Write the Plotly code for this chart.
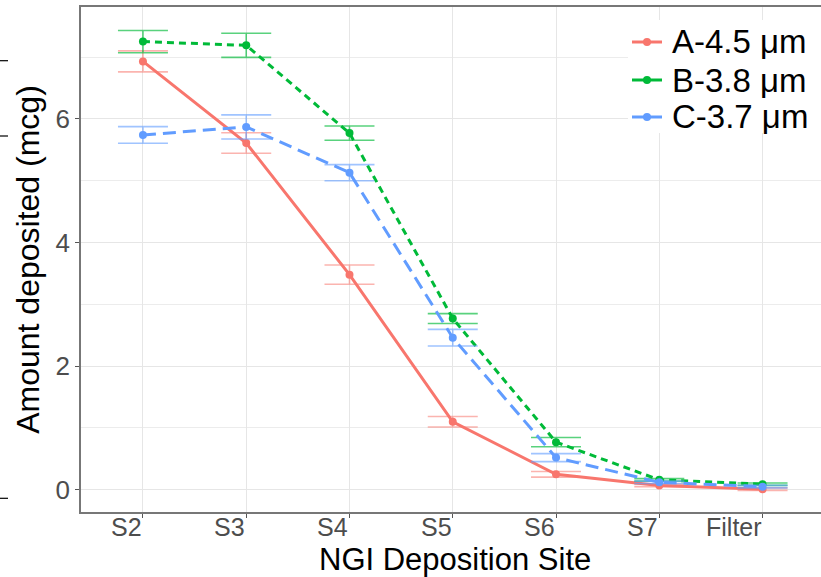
import plotly.graph_objects as go

sites = ["S2", "S3", "S4", "S5", "S6", "S7", "Filter"]

a_name = "A-4.5 μm"
a_vals = [6.93, 5.61, 3.48, 1.10, 0.25, 0.07, 0.01]
a_err = [0.17, 0.165, 0.155, 0.085, 0.045, 0.02, 0.02]

b_name = "B-3.8 μm"
b_vals = [7.25, 7.19, 5.77, 2.77, 0.77, 0.16, 0.09]
b_err = [0.18, 0.195, 0.115, 0.08, 0.075, 0.02, 0.02]

c_name = "C-3.7 μm"
c_vals = [5.74, 5.87, 5.13, 2.46, 0.52, 0.12, 0.05]
c_err = [0.135, 0.195, 0.13, 0.135, 0.065, 0.02, 0.02]

y_ticks = [0, 2, 4, 6]

x_title = "NGI Deposition Site"
y_title = "Amount deposited (mcg)"

FONT = "Liberation Sans, Arial, sans-serif"
W, H = 821, 577
ML, MR, MT, MB = 81, 0, 7, 65
PW, PH = W - ML - MR, H - MT - MB


def px_x(px):
    return (px - ML) / PW


def px_y(py):
    return (MT + PH - py) / PH


series = [
    (a_name, a_vals, a_err, "#F8766D", "rgba(248,118,109,0.55)", "solid"),
    (b_name, b_vals, b_err, "#00BA38", "rgba(0,186,56,0.65)", "7px,5px"),
    (c_name, c_vals, c_err, "#619CFF", "rgba(97,156,255,0.6)", "13px,7px"),
]

fig = go.Figure()
for name, vals, err, col, ecol, dash in series:
    fig.add_trace(go.Scatter(
        x=sites, y=vals, name=name, mode="lines+markers",
        line=dict(color=col, width=3, dash=dash),
        marker=dict(color=col, size=8),
        error_y=dict(type="data", array=err, visible=True,
                     color=ecol, thickness=1.6, width=25),
        showlegend=False,
    ))

fig.update_layout(
    width=W, height=H,
    margin=dict(l=ML, r=MR, t=MT, b=MB),
    paper_bgcolor="white", plot_bgcolor="white",
    font=dict(family=FONT),
    showlegend=False,
    xaxis=dict(
        type="category", categoryorder="array", categoryarray=sites,
        range=[-0.6, 6.566],
        showgrid=True, gridcolor="#e6e6e6", gridwidth=1.3,
        showline=True, linecolor="#777777", linewidth=1.5, mirror=True,
        ticks="outside", ticklen=4, tickcolor="#555555", tickwidth=1,
        showticklabels=False,
        zeroline=False,
    ),
    yaxis=dict(
        range=[-0.36, 7.81],
        tickvals=y_ticks,
        showgrid=True, gridcolor="#e6e6e6", gridwidth=1.3,
        minor=dict(dtick=1, showgrid=True, gridcolor="#ececec", gridwidth=0.8, tick0=1),
        showline=True, linecolor="#777777", linewidth=1.5, mirror=False,
        ticks="outside", ticklen=4, tickcolor="#555555", tickwidth=1,
        tickfont=dict(size=26, color="#4d4d4d", family=FONT),
        title=dict(text=y_title, font=dict(size=32, color="black", family=FONT), standoff=6),
        zeroline=False,
    ),
)

# x tick labels, right-aligned at each category as in the reference
for s in sites:
    fig.add_annotation(x=s, xref="x", y=px_y(527), yref="paper",
                       text=s, showarrow=False, xanchor="right", yanchor="middle",
                       borderpad=0,
                       font=dict(size=25, color="#4d4d4d", family=FONT))

# x axis title
fig.add_annotation(x=px_x(455), xref="paper", y=px_y(559.5), yref="paper",
                   text=x_title, showarrow=False, xanchor="center", yanchor="middle",
                   borderpad=0,
                   font=dict(size=31, color="black", family=FONT))

# legend (drawn manually inside the panel, top-right)
fig.add_shape(type="rect", xref="paper", yref="paper",
              x0=px_x(628), x1=px_x(822), y0=px_y(133), y1=px_y(20),
              fillcolor="white", line=dict(width=0), layer="above")
rows = [42, 80, 117]
for (name, vals, err, col, ecol, dash), ry in zip(series, rows):
    fig.add_shape(type="line", xref="paper", yref="paper",
                  x0=px_x(632), x1=px_x(662), y0=px_y(ry), y1=px_y(ry),
                  line=dict(color=col, width=3), layer="above")
    fig.add_shape(type="circle", xref="paper", yref="paper",
                  x0=px_x(643), x1=px_x(651), y0=px_y(ry + 4), y1=px_y(ry - 4),
                  fillcolor=col, line=dict(color=col, width=0), layer="above")
    fig.add_annotation(x=px_x(670), xref="paper", y=px_y(ry), yref="paper",
                       text=name, showarrow=False, xanchor="left", yanchor="middle",
                       font=dict(size=33, color="black", family=FONT))

# small cropped tick marks at far left edge of the reference image
for py in [60.7, 136.0, 498.3]:
    fig.add_shape(type="line", xref="paper", yref="paper",
                  x0=px_x(0), x1=px_x(8), y0=px_y(py), y1=px_y(py),
                  line=dict(color="black", width=1.2), layer="above")

fig.write_html("out.html")
